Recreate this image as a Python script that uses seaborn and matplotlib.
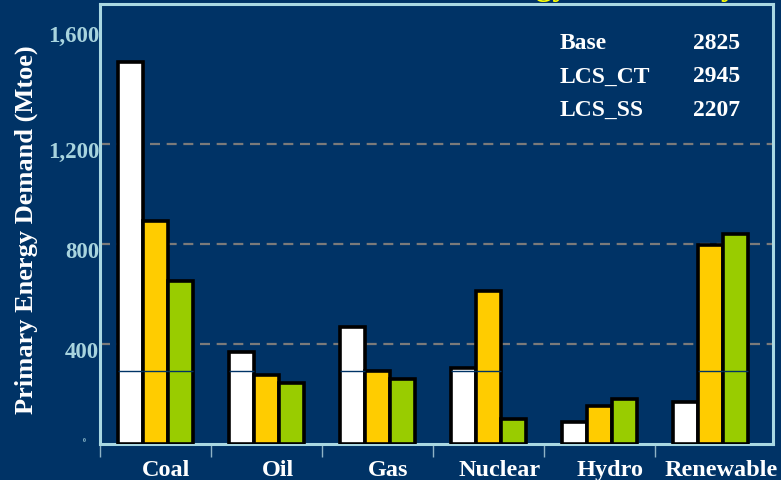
import matplotlib
matplotlib.use("Agg")
import matplotlib.pyplot as plt
from matplotlib.transforms import ScaledTranslation
import seaborn as sns
import pandas as pd

# Primary energy demand by fuel under three scenarios (Mtoe)
fuels = ["Coal", "Oil", "Gas", "Nuclear", "Hydro", "Renewable"]
scenarios = ["Base", "LCS_CT", "LCS_SS"]
base = [1530, 368, 468, 304, 89, 168]
lcs_ct = [892, 276, 292, 612, 153, 796]
lcs_ss = [652, 244, 260, 100, 180, 840]
totals = [2825, 2945, 2207]
y_ticks = [0, 400, 800, 1200, 1600]
y_tick_labels = ["0", "400", "800", "1,200", "1,600"]
RULE_LEVEL = 292

BG = "#003366"
FRAME = "#a9d8e2"
SERIF = ["Liberation Serif", "DejaVu Serif"]

sns.set_theme(style="white")
plt.rcParams["font.family"] = SERIF
plt.rcParams["font.weight"] = "bold"

df = pd.DataFrame({
    "fuel": fuels * 3,
    "scenario": [s for s in scenarios for _ in fuels],
    "mtoe": base + lcs_ct + lcs_ss,
})

W, H = 781, 481
fig = plt.figure(figsize=(W / 100, H / 100), dpi=100, facecolor=BG)
ax = fig.add_axes([100 / W, 36 / H, 673 / W, 440 / H])
ax.set_facecolor(BG)

# dashed reference lines behind the bars
for v in (400, 800, 1200):
    ax.axhline(v, color="#7a7a7a", lw=1.6, ls=(0, (4.5, 3)), zorder=0)

sns.barplot(
    data=df, x="fuel", y="mtoe", hue="scenario", order=fuels,
    hue_order=scenarios, palette=["#ffffff", "#ffcc00", "#99cc00"],
    width=0.68, saturation=1, edgecolor="black", linewidth=2.6,
    legend=False, ax=ax, zorder=2,
)

# thin navy rule crossing every bar taller than the rule level
for p in ax.patches:
    if p.get_height() > RULE_LEVEL:
        x0 = p.get_x()
        ax.hlines(RULE_LEVEL, x0, x0 + p.get_width(), color=BG, lw=1.0,
                  zorder=3)

ax.set_xlim(-0.5, 5.563)
ax.set_ylim(0, 1760)
ax.set_xlabel("")
ax.set_ylabel("Primary Energy Demand (Mtoe)", color="white", fontsize=19,
              fontweight="bold")
ax.yaxis.set_label_coords(-0.092, 0.49)

# y axis
ax.set_yticks(y_ticks)
ax.set_yticklabels(y_tick_labels)
ax.tick_params(axis="y", colors="#7a7a7a", length=5, width=1.6, pad=-4.5,
               labelsize=16.5, labelcolor="#a8d4de")
yt = ax.yaxis.get_major_ticks()
yt[-1].tick1line.set_visible(False)
yt[0].tick1line.set_color(FRAME)
yt[0].label1.set_fontsize(4)
for i, lab in enumerate(ax.get_yticklabels()):
    dx, dy = 0, -5
    if i == len(y_ticks) - 1:
        dy = 11
    if i == 0:
        dx, dy = -14, 5
    lab.set_transform(lab.get_transform()
                      + ScaledTranslation(dx / 100, dy / 100,
                                          fig.dpi_scale_trans))
    lab.set_fontweight("bold")

# x axis: labels at group centres, tick marks at group boundaries
ax.set_xticks(range(len(fuels)))
ax.set_xticklabels(fuels)
ax.set_xticks([i - 0.5 for i in range(len(fuels))], minor=True)
ax.tick_params(axis="x", which="major", length=0, pad=11, labelsize=17.5,
               labelcolor="white")
ax.tick_params(axis="x", which="minor", length=9, width=1.0, color="#8fb3c6",
               bottom=True)
shift = ScaledTranslation(11 / 100, 0, fig.dpi_scale_trans)
for lab in ax.get_xticklabels():
    lab.set_transform(lab.get_transform() + shift)
    lab.set_fontweight("bold")

for s in ax.spines.values():
    s.set_visible(True)
    s.set_color(FRAME)
    s.set_linewidth(2.2)
    s.set_zorder(1)

# scenario totals
for i, (name, tot) in enumerate(zip(scenarios, totals)):
    yy = 1 - (49 + 33.5 * i) / H
    fig.text(560 / W, yy, name, color="white", fontsize=17, fontweight="bold",
             ha="left", va="baseline")
    fig.text(740 / W, yy, str(tot), color="white", fontsize=17,
             fontweight="bold", ha="right", va="baseline")

# heading sitting above the frame
fig.text(737 / W, 1 + 4.5 / H, "Energy Demand by", color="#ffff00",
         fontsize=23.5, fontweight="bold", ha="right", va="baseline")

fig.savefig("out.png", dpi=100, facecolor=BG)
